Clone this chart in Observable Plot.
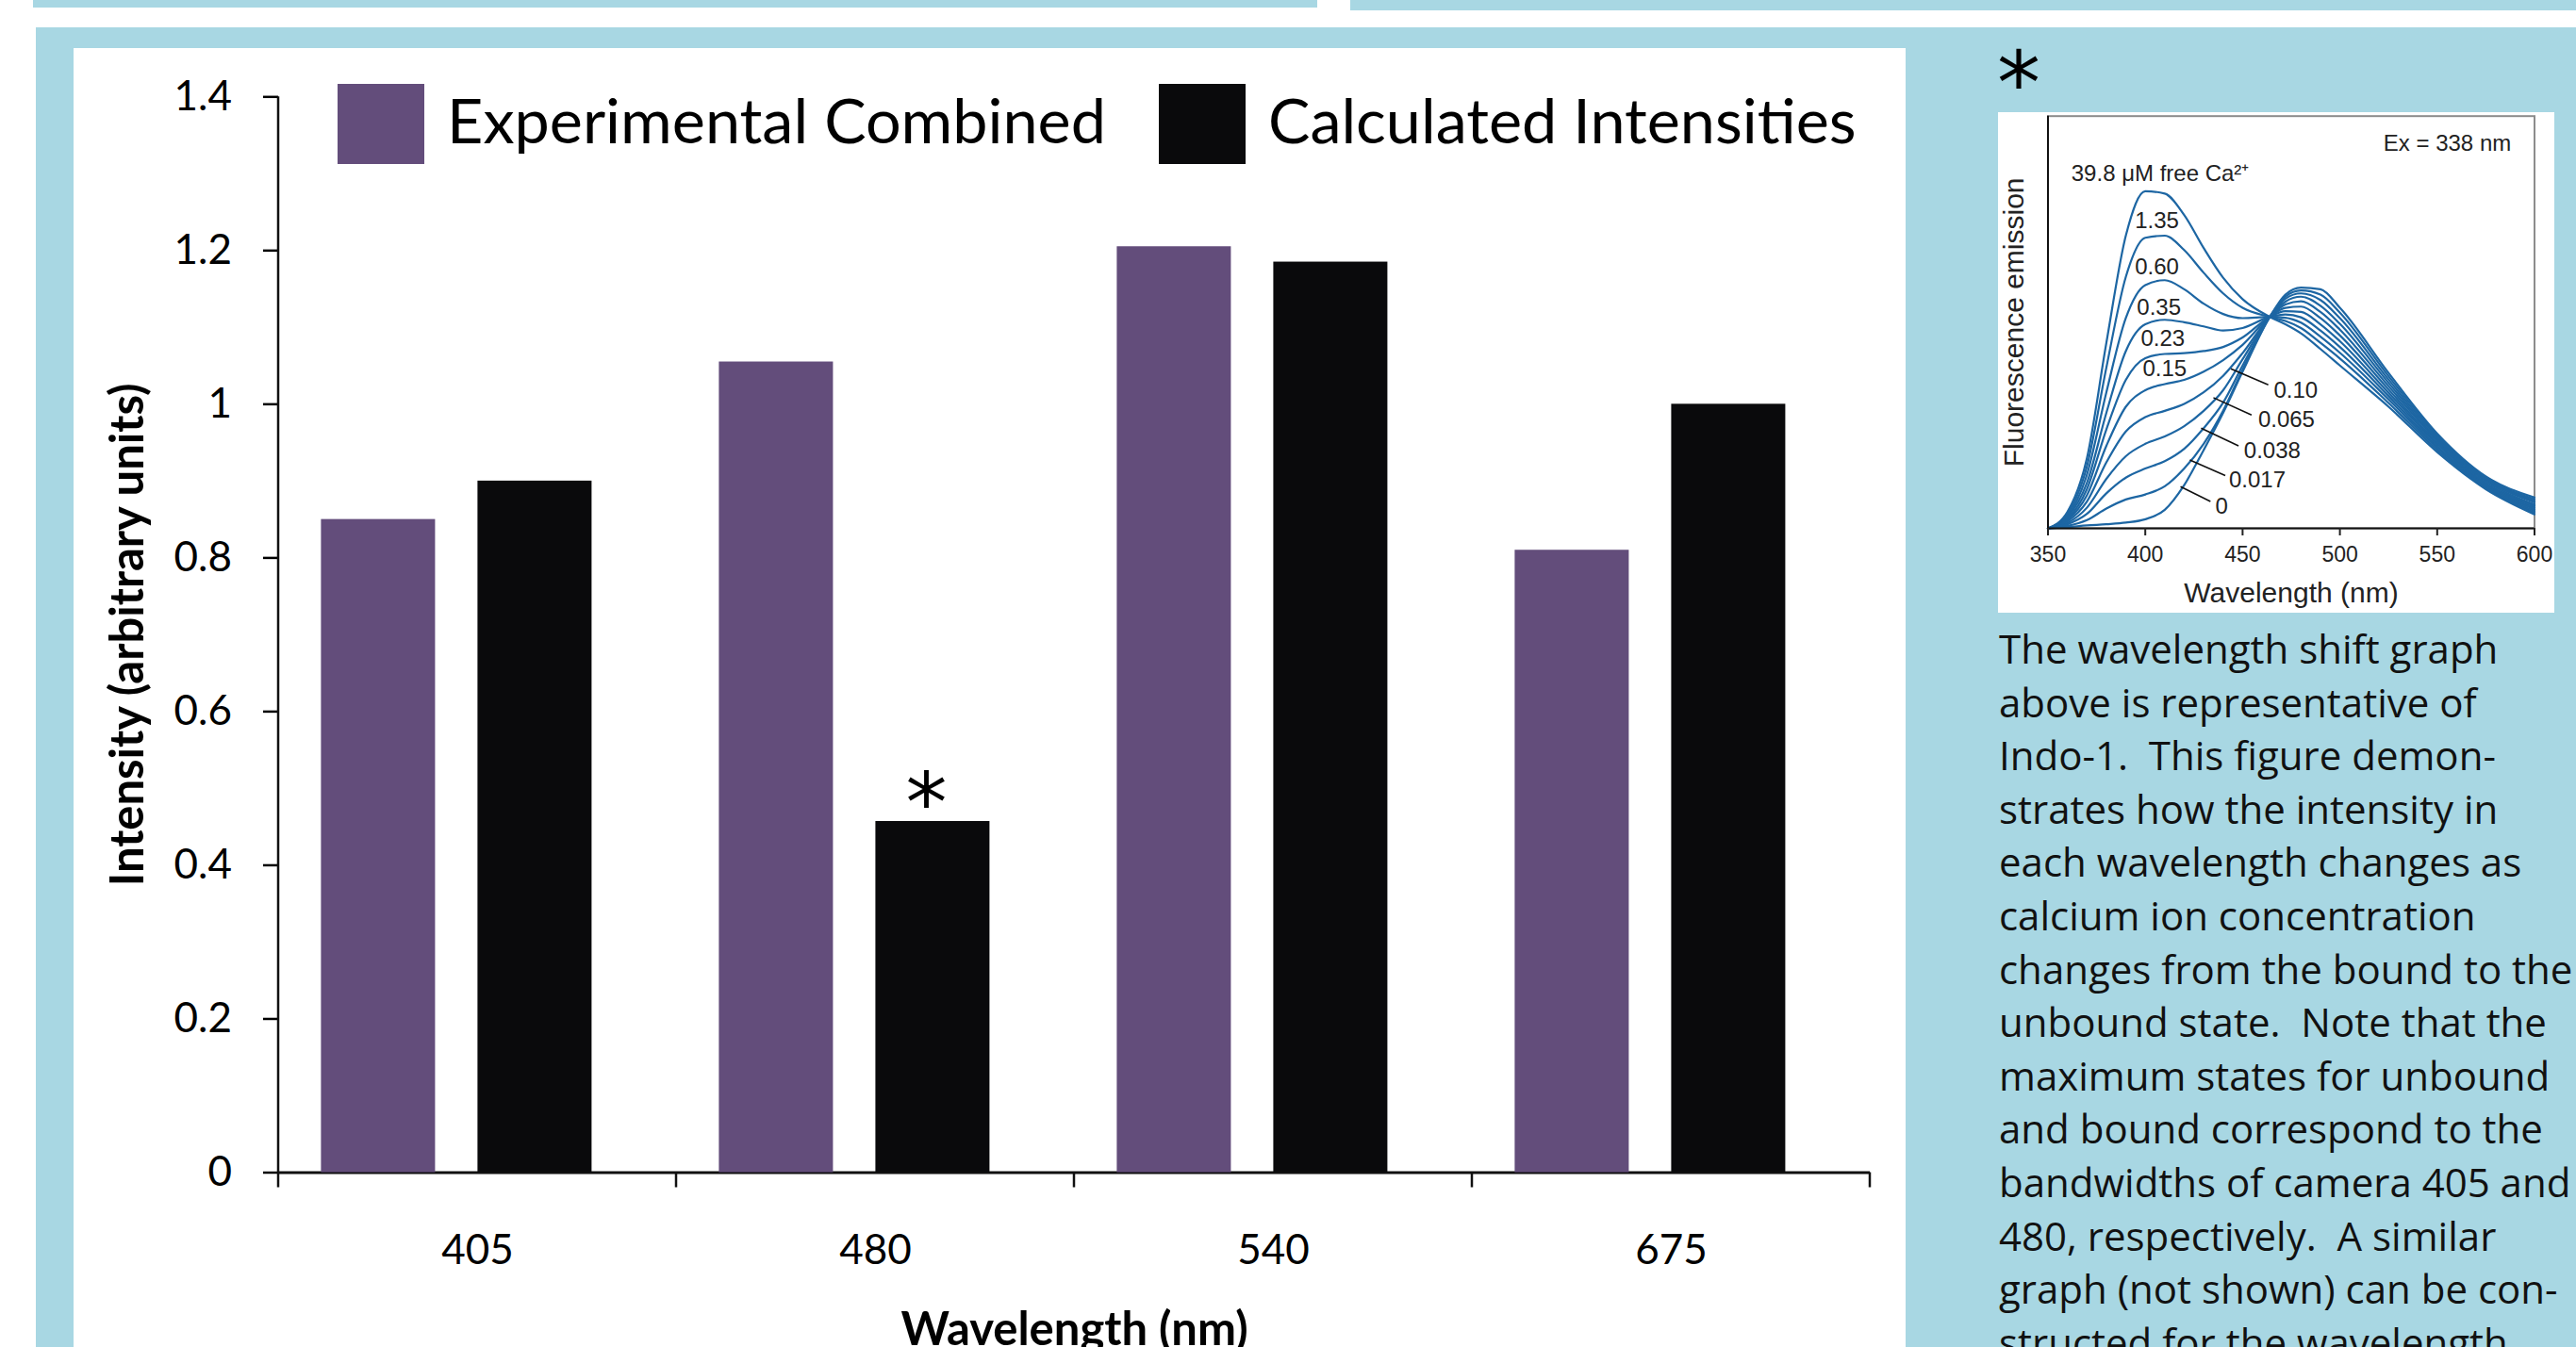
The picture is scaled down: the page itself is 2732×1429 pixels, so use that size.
<!DOCTYPE html>
<html>
<head>
<meta charset="utf-8">
<script src="https://cdn.jsdelivr.net/npm/d3@7"></script>
<script src="https://cdn.jsdelivr.net/npm/@observablehq/plot@0.6"></script>
<style>
  html, body { margin: 0; padding: 0; background: #fff; }
  body { width: 2732px; height: 1429px; position: relative; overflow: hidden; }
  .abs { position: absolute; }
  .blue { background: #A8D7E3; }
  #caption { font-family: "Open Sans", sans-serif; font-size: 42px; line-height: 56.6px; color: #111; white-space: pre; }
  #star { font-family: "DejaVu Sans", sans-serif; font-size: 92px; line-height: 1; color: #000; }
  #legend span { margin-right: 56px !important; }
  #legend svg { margin-right: 24px !important; position: relative; top: 6px; }
</style>
</head>
<body>
<div class="abs blue" style="left:35px;top:0;width:1362px;height:8px"></div>
<div class="abs blue" style="left:1432px;top:0;width:1300px;height:11px"></div>
<div class="abs blue" style="left:38px;top:29px;width:2694px;height:1400px"></div>
<div id="main" class="abs" style="left:78px;top:51px"></div>
<div id="legend" class="abs" style="left:358px;top:83px"></div>
<div id="star" class="abs" style="left:2118px;top:44px">*</div>
<div id="inset" class="abs" style="left:2119px;top:119px"></div>
<div id="caption" class="abs" style="left:2120px;top:660px"></div>
<script>
// ---------- main chart data ----------
const wavelengths = ["405", "480", "540", "675"];
const seriesNames = ["Experimental Combined", "Calculated Intensities"];
const experimentalCombined = [0.85, 1.055, 1.205, 0.81];
const calculatedIntensities = [0.90, 0.457, 1.185, 1.00];
const seriesColors = ["#634D7B", "#0A0A0C"];
const yTicks = [0, 0.2, 0.4, 0.6, 0.8, 1, 1.2, 1.4];
const flaggedWavelength = "480";
const flaggedSeries = "Calculated Intensities";
const flagSymbol = "*";

// ---------- inset (Indo-1 spectra) data ----------
const insetWavelengths = [350, 360, 370, 380, 390, 400, 410, 420, 430, 440, 450, 464, 472, 480, 490, 500, 525, 550, 575, 600];
const caLevels = ["39.8", "1.35", "0.60", "0.35", "0.23", "0.15", "0.10", "0.065", "0.038", "0.017", "0"];
const em39_8 = [0, 4, 17, 45, 71, 81.8, 81.2, 76, 68, 60.8, 55.6, 51.3, 49.5, 47.3, 43.5, 39.5, 29.5, 18.5, 9.5, 3.4];
const em1_35 = [0, 3.5, 15, 39, 61, 70.5, 71, 67.5, 62, 57, 53.5, 51.3, 50.3, 48.6, 45, 41.2, 30.4, 19, 9.8, 3.8];
const em0_60 = [0, 3, 13, 33, 51, 59, 60.2, 58, 54.5, 52, 51, 51.3, 51.1, 49.9, 46.5, 42.6, 31.3, 19.5, 10.1, 4.2];
const em0_35 = [0, 2.7, 11, 28, 43, 49.5, 50.6, 50, 49, 48, 48.6, 51.3, 51.9, 51.2, 48, 44, 32.1, 19.9, 10.4, 4.6];
const em0_23 = [0, 2.3, 9.5, 24, 36, 41.3, 42.3, 42.5, 43, 44, 46.3, 51.3, 52.7, 52.5, 49.5, 45.4, 32.9, 20.4, 10.7, 5];
const em0_15 = [0, 2, 8, 20, 29.5, 33.5, 35, 36, 38, 40.8, 44.5, 51.3, 53.5, 53.8, 51, 46.8, 33.7, 20.8, 11, 5.4];
const em0_10 = [0, 1.7, 6.5, 16, 23.5, 27, 28.5, 30.2, 33, 37, 42.5, 51.3, 54.3, 55.1, 52.5, 48.2, 34.5, 21.3, 11.4, 5.8];
const em0_065 = [0, 1.3, 5, 12, 17.5, 20.5, 22.3, 24.8, 28.5, 33.5, 41, 51.3, 55, 56.2, 54, 49.6, 35.3, 21.7, 11.7, 6.3];
const em0_038 = [0, 1, 3.5, 8.5, 12.3, 14.5, 16.3, 19.3, 24.3, 30.5, 39.5, 51.3, 55.7, 57, 55.4, 51, 36.1, 22.2, 12, 6.7];
const em0_017 = [0, 0.6, 2, 4.8, 7, 8.2, 10.2, 14.5, 20.5, 28.5, 38.5, 51.3, 56.2, 57.7, 56.7, 52.3, 36.9, 22.6, 12.3, 7.1];
const em0 = [0, 0.3, 0.7, 1, 1.4, 2.2, 4.5, 10.5, 19, 28, 38, 51.3, 56.7, 58.4, 58, 53.5, 37.7, 23, 12.6, 7.5];
const insetTicks = [350, 400, 450, 500, 550, 600];
const insetLabelText = ["39.8 μM free Ca²⁺", "Ex = 338 nm", "1.35", "0.60", "0.35", "0.23", "0.15", "0.10", "0.065", "0.038", "0.017", "0"];
const insetLabelX = [362, 588, 406, 406, 407, 409, 410, 466, 458, 450.7, 443, 436];
const insetLabelY = [86.1, 93.4, 74.6, 63.5, 53.6, 46.1, 38.6, 33.4, 26.3, 18.9, 11.6, 5.2];
const insetLabelAnchor = ["start", "end", "middle", "middle", "middle", "middle", "middle", "start", "start", "start", "start", "start"];
const leaderX1 = [444, 435, 428.7, 422.9, 418.1];
const leaderY1 = [38.7, 31.7, 24.3, 16.6, 10.1];
const leaderX2 = [463.2, 454.6, 447.9, 441.1, 433.5];
const leaderY2 = [34.8, 27.5, 20, 12.8, 6.5];

// ---------- caption text ----------
const captionLines = [
  "The wavelength shift graph",
  "above is representative of",
  "Indo-1.  This figure demon-",
  "strates how the intensity in",
  "each wavelength changes as",
  "calcium ion concentration",
  "changes from the bound to the",
  "unbound state.  Note that the",
  "maximum states for unbound",
  "and bound correspond to the",
  "bandwidths of camera 405 and",
  "480, respectively.  A similar",
  "graph (not shown) can be con-",
  "structed for the wavelength"
];

// ---------- build main chart ----------
const bars = wavelengths.flatMap((w, i) => [
  {wavelength: w, series: seriesNames[0], value: experimentalCombined[i]},
  {wavelength: w, series: seriesNames[1], value: calculatedIntensities[i]}
]);
const flagged = bars.filter(d => d.wavelength === flaggedWavelength && d.series === flaggedSeries);

const main = Plot.plot({
  width: 1943,
  height: 1378,
  marginLeft: 216.6,
  marginRight: 37.6,
  marginTop: 51.3,
  marginBottom: 185.5,
  style: {fontFamily: "Lato, 'Open Sans', sans-serif", fontSize: "44px", color: "#000", background: "#fff"},
  fx: {domain: wavelengths, padding: 0},
  x: {domain: seriesNames, paddingInner: 0.271, paddingOuter: 0.4065, align: 0.34, axis: null},
  y: {domain: [0, 1.4]},
  color: {domain: seriesNames, range: seriesColors},
  marks: [
    Plot.ruleY([0], {stroke: "#111", strokeWidth: 3}),
    Plot.barY(bars, {fx: "wavelength", x: "series", y: "value", fill: "series"}),
    Plot.text(flagged, {fx: "wavelength", x: "series", y: "value", text: () => flagSymbol,
      fontFamily: "DejaVu Sans, sans-serif", fontSize: 88, lineAnchor: "middle", dy: -18, dx: -7}),
    Plot.axisY({ticks: yTicks, tickFormat: d3.format("~g"), tickSize: 16, tickPadding: 33.5, fontSize: 44,
      strokeWidth: 2.5, label: "Intensity (arbitrary units)", labelAnchor: "center", labelOffset: 178, labelArrow: "none"}),
    Plot.axisFx({anchor: "bottom", tickSize: 0, tickPadding: 66, fontSize: 44,
      label: "Wavelength (nm)", labelAnchor: "center", labelArrow: "none"})
  ]
});
document.getElementById("main").appendChild(main);

// axis line and category boundary ticks from the library's scales
{
  const svg = d3.select(main);
  const fxS = main.scale("fx");
  const yS = main.scale("y");
  const starts = wavelengths.map(w => fxS.apply(w));
  const bounds = starts.concat([starts[starts.length - 1] + fxS.step]);
  const y0 = yS.apply(0), yTop = yS.apply(1.4);
  const g = svg.append("g").attr("stroke", "#111").attr("stroke-width", 2.5);
  g.selectAll("line.b").data(bounds).join("line")
    .attr("x1", d => d).attr("x2", d => d).attr("y1", y0).attr("y2", y0 + 16);
  g.append("line").attr("x1", bounds[0]).attr("x2", bounds[0]).attr("y1", yTop).attr("y2", y0);
  svg.selectAll('g[aria-label="y-axis label"], g[aria-label="fx-axis label"]')
    .attr("font-weight", "bold").attr("font-size", 49);
  svg.selectAll('g[aria-label="y-axis label"] text, g[aria-label="fx-axis label"] text')
    .attr("font-size", 49);
}

// legend
const legend = Plot.legend({
  color: {domain: seriesNames, range: seriesColors},
  legend: "swatches",
  swatchWidth: 92,
  swatchHeight: 85,
  style: {fontFamily: "Lato, sans-serif", fontSize: "66.5px", color: "#000"}
});
document.getElementById("legend").appendChild(legend);

// ---------- inset chart ----------
const emissionSeries = [em39_8, em1_35, em0_60, em0_35, em0_23, em0_15, em0_10, em0_065, em0_038, em0_017, em0];
const emissionRows = caLevels.flatMap((ca, k) => insetWavelengths.map((wl, i) => ({ca, wl, v: emissionSeries[k][i]})));
const insetLabels = insetLabelText.map((t, i) => ({t, x: insetLabelX[i], y: insetLabelY[i], a: insetLabelAnchor[i]}));
const leaders = leaderX1.map((x1, i) => ({x1, y1: leaderY1[i], x2: leaderX2[i], y2: leaderY2[i]}));

const inset = Plot.plot({
  width: 590,
  height: 531,
  marginLeft: 52.5,
  marginRight: 21.5,
  marginTop: 3.7,
  marginBottom: 90,
  style: {fontFamily: "'Liberation Sans', Arial, sans-serif", fontSize: "23px", color: "#222", background: "#fff"},
  x: {domain: [350, 600]},
  y: {domain: [0, 100], axis: null},
  marks: [
    Plot.frame({stroke: "#8c8c8c", strokeWidth: 2}),
    Plot.line(emissionRows, {x: "wl", y: "v", z: "ca", stroke: "#1D66A3", strokeWidth: 2.2, curve: "monotone-x"}),
    Plot.ruleY([0], {stroke: "#111", strokeWidth: 2}),
    Plot.ruleX([350], {stroke: "#111", strokeWidth: 2}),
    Plot.link(leaders, {x1: "x1", y1: "y1", x2: "x2", y2: "y2", stroke: "#111", strokeWidth: 1.6}),
    Plot.text(insetLabels.filter(d => d.a === "start"), {x: "x", y: "y", text: "t", textAnchor: "start", fontSize: 24}),
    Plot.text(insetLabels.filter(d => d.a === "middle"), {x: "x", y: "y", text: "t", textAnchor: "middle", fontSize: 24}),
    Plot.text(insetLabels.filter(d => d.a === "end"), {x: "x", y: "y", text: "t", textAnchor: "end", fontSize: 24}),
    Plot.axisX({ticks: insetTicks, tickSize: 8, tickPadding: 11, fontSize: 23, strokeWidth: 2, label: null}),
    Plot.text(["Wavelength (nm)"], {frameAnchor: "bottom", text: d => d, dy: 69, fontSize: 30, lineAnchor: "middle", textAnchor: "middle"}),
    Plot.text(["Fluorescence emission"], {frameAnchor: "left", text: d => d, rotate: -90, dx: -35.5, fontSize: 30, lineAnchor: "middle", textAnchor: "middle"})
  ]
});
document.getElementById("inset").appendChild(inset);

// caption
document.getElementById("caption").textContent = captionLines.join("\n");
</script>
</body>
</html>
